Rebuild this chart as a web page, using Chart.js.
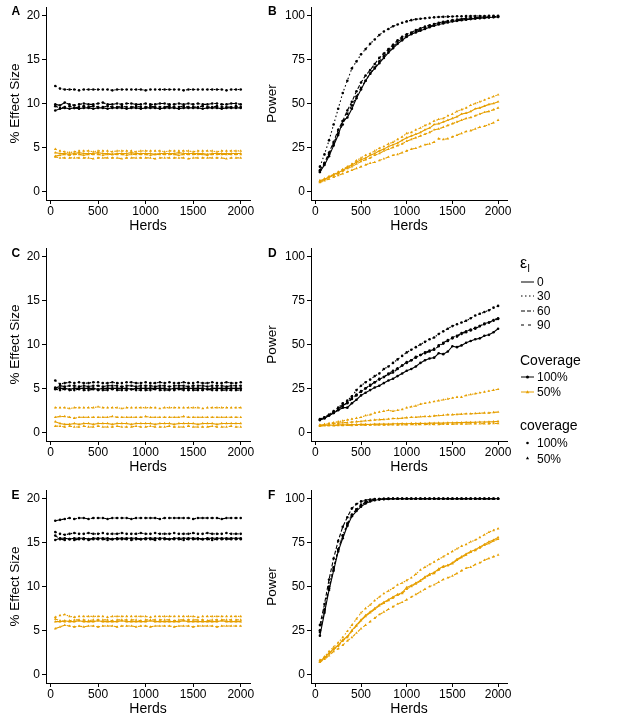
<!DOCTYPE html>
<html>
<head>
<meta charset="utf-8">
<script src="https://cdn.jsdelivr.net/npm/chart.js@4.4.1/dist/chart.umd.min.js"></script>
<style>
  body { margin: 0; background: #fff; width: 617px; height: 725px; position: relative; overflow: hidden;
         font-family: "Liberation Sans", Arial, sans-serif; color: #000; }
  canvas { position: absolute; }
  .lab { position: absolute; font-weight: bold; font-size: 12px; line-height: 12px; }
  .leg { position: absolute; font-size: 12px; line-height: 14px; white-space: nowrap; }
  .ttl { position: absolute; font-size: 14px; line-height: 16px; white-space: nowrap; }
  .key { position: absolute; }
</style>
</head>
<body>
<canvas id="chA" width="262" height="238" style="left:0;top:0"></canvas>
<canvas id="chB" width="262" height="238" style="left:257px;top:0"></canvas>
<canvas id="chC" width="262" height="238" style="left:0;top:241px"></canvas>
<canvas id="chD" width="262" height="238" style="left:257px;top:241px"></canvas>
<canvas id="chE" width="262" height="238" style="left:0;top:483px"></canvas>
<canvas id="chF" width="262" height="238" style="left:257px;top:483px"></canvas>

<div class="lab" style="left:11.5px;top:4.8px">A</div>
<div class="lab" style="left:268px;top:4.8px">B</div>
<div class="lab" style="left:11.5px;top:246.5px">C</div>
<div class="lab" style="left:268px;top:246.5px">D</div>
<div class="lab" style="left:11.5px;top:489px">E</div>
<div class="lab" style="left:268px;top:489px">F</div>

<!-- legend -->
<div class="ttl" style="left:520px;top:255px;font-size:16px">ε<sub style="font-size:10px">I</sub></div>
<svg class="key" style="left:521px;top:274.7px" width="13" height="14"><line x1="0" y1="7" x2="13" y2="7" stroke="#000" stroke-width="1"/></svg>
<div class="leg" style="left:537px;top:275px">0</div>
<svg class="key" style="left:521px;top:289px" width="13" height="14"><line x1="0" y1="7" x2="13" y2="7" stroke="#000" stroke-width="1" stroke-dasharray="1.5,2.5"/></svg>
<div class="leg" style="left:537px;top:289.3px">30</div>
<svg class="key" style="left:521px;top:303.7px" width="13" height="14"><line x1="0" y1="7" x2="13" y2="7" stroke="#000" stroke-width="1" stroke-dasharray="4,2"/></svg>
<div class="leg" style="left:537px;top:304px">60</div>
<svg class="key" style="left:521px;top:318px" width="13" height="14"><line x1="0" y1="7" x2="13" y2="7" stroke="#000" stroke-width="1" stroke-dasharray="3,4"/></svg>
<div class="leg" style="left:537px;top:318.3px">90</div>

<div class="ttl" style="left:520px;top:352.4px">Coverage</div>
<svg class="key" style="left:521px;top:369.7px" width="13" height="14"><line x1="0" y1="7" x2="13" y2="7" stroke="#000" stroke-width="1"/><circle cx="6.5" cy="7" r="1.5" fill="#000"/></svg>
<div class="leg" style="left:537px;top:370px">100%</div>
<svg class="key" style="left:521px;top:384.7px" width="13" height="14"><line x1="0" y1="7" x2="13" y2="7" stroke="#E69F00" stroke-width="1"/><polygon points="6.5,5.3 8.2,8.2 4.8,8.2" fill="#E69F00"/></svg>
<div class="leg" style="left:537px;top:385px">50%</div>

<div class="ttl" style="left:520px;top:417.4px">coverage</div>
<svg class="key" style="left:521px;top:435.7px" width="13" height="14"><circle cx="6.5" cy="7" r="1.3" fill="#000"/></svg>
<div class="leg" style="left:537px;top:436px">100%</div>
<svg class="key" style="left:521px;top:451.3px" width="13" height="14"><polygon points="6.5,5.4 8.1,8.2 4.9,8.2" fill="#000"/></svg>
<div class="leg" style="left:537px;top:451.6px">50%</div>

<script>
// herd sizes sampled in the simulations
var herds = [50,100,150,200,250,300,350,400,450,500,550,600,650,700,750,800,850,900,950,1000,
             1050,1100,1150,1200,1250,1300,1350,1400,1450,1500,1550,1600,1650,1700,1750,1800,1850,1900,1950,2000];

var xTicks = [0, 500, 1000, 1500, 2000];
var yTicksEffect = [0, 5, 10, 15, 20];
var yTicksPower = [0, 25, 50, 75, 100];

var epsLevels = ['0', '30', '60', '90'];
var epsDash = [[], [1.5, 2.5], [4, 2], [3, 4]];
var coverageLevels = ['100%', '50%'];
var coverageColors = ['#000000', '#E69F00'];

// panel A - % effect size
var A_k0  = [9.2,9.4,9.5,9.4,9.5,9.4,9.5,9.5,9.4,9.5,9.5,9.4,9.5,9.5,9.5,9.4,9.5,9.5,9.4,9.5,9.5,9.5,9.4,9.5,9.5,9.5,9.4,9.5,9.5,9.5,9.5,9.4,9.5,9.5,9.5,9.4,9.5,9.5,9.5,9.5];
var A_k30 = [12.0,11.7,11.6,11.6,11.6,11.5,11.6,11.6,11.6,11.6,11.6,11.6,11.5,11.6,11.6,11.6,11.6,11.6,11.6,11.5,11.6,11.6,11.6,11.6,11.6,11.6,11.6,11.5,11.6,11.6,11.6,11.6,11.6,11.6,11.6,11.6,11.5,11.6,11.6,11.6];
var A_k60 = [9.9,9.8,10.1,9.9,9.8,9.9,10.0,9.9,9.9,10.0,10.1,9.9,9.9,10.0,9.9,10.0,10.0,9.9,9.9,10.0,9.9,9.9,10.0,10.0,9.9,9.9,10.0,9.9,10.0,9.9,10.0,9.9,9.9,10.0,10.0,9.9,9.9,10.0,10.0,9.9];
var A_k90 = [9.7,9.5,9.6,9.7,9.5,9.6,9.7,9.6,9.7,9.6,9.6,9.7,9.6,9.6,9.7,9.6,9.6,9.7,9.6,9.6,9.7,9.6,9.6,9.6,9.7,9.6,9.6,9.7,9.6,9.6,9.6,9.7,9.6,9.6,9.7,9.6,9.6,9.6,9.7,9.6];
var A_o0  = [4.4,4.3,4.3,4.2,4.3,4.4,4.3,4.3,4.3,4.4,4.3,4.3,4.2,4.3,4.3,4.3,4.4,4.3,4.3,4.3,4.3,4.2,4.3,4.3,4.3,4.3,4.4,4.3,4.3,4.3,4.3,4.3,4.2,4.3,4.3,4.3,4.3,4.3,4.3,4.3];
var A_o30 = [4.8,4.6,4.5,4.4,4.5,4.6,4.6,4.6,4.5,4.6,4.6,4.6,4.5,4.6,4.6,4.6,4.6,4.5,4.6,4.6,4.6,4.6,4.6,4.5,4.6,4.6,4.6,4.6,4.6,4.5,4.6,4.6,4.6,4.6,4.5,4.6,4.6,4.6,4.6,4.6];
var A_o60 = [4.0,4.1,4.2,4.1,4.2,4.2,4.1,4.2,4.2,4.2,4.1,4.2,4.2,4.2,4.2,4.1,4.2,4.2,4.2,4.2,4.1,4.2,4.2,4.2,4.2,4.2,4.1,4.2,4.2,4.2,4.2,4.2,4.1,4.2,4.2,4.2,4.2,4.2,4.2,4.2];
var A_o90 = [3.9,3.8,3.8,3.8,3.8,3.8,3.8,3.8,3.7,3.8,3.8,3.8,3.8,3.8,3.7,3.8,3.8,3.8,3.8,3.8,3.8,3.7,3.8,3.8,3.8,3.8,3.8,3.8,3.7,3.8,3.8,3.8,3.8,3.8,3.8,3.8,3.7,3.8,3.8,3.8];

// panel B - power
var B_k0  = [11,15,20,26,32,40,42,47,53,58,63,67,70,73,76,79,81.5,84,86,88,89.5,90.5,91.5,92.5,93.5,94.3,95,95.6,96.2,96.7,97.1,97.5,97.8,98.1,98.4,98.6,98.8,99,99.2,99.3];
var B_k30 = [14,21,29,38,47,56,63,70,74,78,81,84,86.5,89,91,92.5,94,95,96,96.8,97.5,98,98.3,98.6,98.9,99.1,99.3,99.4,99.5,99.6,99.7,99.7,99.8,99.8,99.9,99.9,99.9,100,100,100];
var B_k60 = [12,16,22,28,35,40,46,51,57,62,66,69,72.5,76,78.5,81,83.5,86,88,89.5,90.5,91.8,92.8,93.8,94.6,95.3,96,96.6,97,97.5,97.8,98.2,98.5,98.7,98.9,99.1,99.3,99.4,99.5,99.6];
var B_k90 = [11,16,21,27,33,38,44,49,54,59,63,67,70.5,74,77,80,82.5,85,87,88.5,90,91,92.2,93.2,94,94.8,95.5,96.1,96.6,97,97.4,97.8,98.1,98.4,98.6,98.8,99,99.2,99.3,99.4];
var B_o0  = [6,7,8,9.5,10.5,12,13.5,15,16.5,18,19,20.5,21.5,23,24,25.5,26.5,27.5,29,30.5,31.5,32.5,33.5,35,36,38,38.5,39.5,40.5,41.5,42.5,44,44.5,45.5,47,47.5,48.5,49.5,50,51];
var B_o30 = [6,7,8.5,9.5,11,12.5,14,15.5,17.5,19,20.5,21.5,23,24.5,25.5,27,28,29.5,31,33,33.5,35,36,37.5,38.5,40,41,41.5,43,44,45.5,46.5,47.5,49,50,51,52,53,54,55];
var B_o60 = [5.5,6.5,8,9,10,11.5,13,14,15.5,17,18,19,20.5,21.5,23,24,25,26,27,28.5,29.5,30.5,31.5,32.5,33.5,35,35.5,36.5,37.5,38.5,39.5,40.5,41.5,42,43,44,45,45.5,46.5,47.5];
var B_o90 = [5,6,7,8,9,10,11,12,13,14,15,16,16.5,17.5,18.5,19.5,20.5,21,22,23,24,24.5,25.5,26.5,27,28,30,29.5,30,31,32,33,34,34.5,35.5,36.5,37,38,39,40.5];

// panel C - % effect size
var C_k0  = [5.1,5.0,5.0,4.9,5.0,5.0,5.0,5.0,5.0,4.9,5.0,5.0,5.0,5.0,5.0,5.0,4.9,5.0,5.0,5.0,5.0,5.0,5.0,5.0,4.9,5.0,5.0,5.0,5.0,5.0,5.0,5.0,4.9,5.0,5.0,5.0,5.0,5.0,5.0,5.0];
var C_k30 = [5.9,5.5,5.6,5.7,5.6,5.7,5.6,5.6,5.7,5.7,5.6,5.6,5.7,5.6,5.6,5.7,5.7,5.6,5.6,5.7,5.6,5.6,5.7,5.6,5.7,5.6,5.6,5.7,5.6,5.6,5.7,5.6,5.6,5.7,5.6,5.6,5.7,5.6,5.6,5.7];
var C_k60 = [5.0,5.3,5.2,5.3,5.3,5.2,5.3,5.2,5.3,5.3,5.2,5.3,5.3,5.3,5.2,5.3,5.3,5.2,5.3,5.3,5.3,5.2,5.3,5.3,5.2,5.3,5.3,5.3,5.2,5.3,5.3,5.3,5.2,5.3,5.3,5.3,5.2,5.3,5.3,5.3];
var C_k90 = [4.9,4.8,4.9,4.8,4.8,4.9,4.8,4.8,4.9,4.8,4.8,4.8,4.9,4.8,4.8,4.8,4.9,4.8,4.8,4.8,4.8,4.9,4.8,4.8,4.8,4.8,4.9,4.8,4.8,4.8,4.8,4.8,4.9,4.8,4.8,4.8,4.8,4.8,4.8,4.8];
var C_o0  = [1.2,1.0,0.9,0.9,1.0,0.9,1.0,1.0,0.9,1.0,1.0,1.0,0.9,1.0,1.0,1.0,0.9,1.0,1.0,1.0,1.0,0.9,1.0,1.0,1.0,0.9,1.0,1.0,1.0,1.0,0.9,1.0,1.0,1.0,0.9,1.0,1.0,1.0,1.0,1.0];
var C_o30 = [2.8,2.8,2.8,2.7,2.8,2.8,2.8,2.8,2.8,2.9,2.8,2.8,2.8,2.8,2.7,2.8,2.8,2.8,2.8,2.8,2.8,2.8,2.7,2.8,2.8,2.8,2.8,2.8,2.8,2.8,2.8,2.7,2.8,2.8,2.8,2.8,2.8,2.8,2.8,2.8];
var C_o60 = [1.7,1.8,1.8,1.7,1.6,1.7,1.7,1.7,1.7,1.7,1.7,1.7,1.8,1.7,1.7,1.7,1.7,1.7,1.7,1.8,1.7,1.7,1.7,1.7,1.7,1.7,1.7,1.8,1.7,1.7,1.7,1.7,1.7,1.7,1.7,1.7,1.7,1.7,1.7,1.7];
var C_o90 = [0.7,0.7,0.6,0.7,0.6,0.6,0.7,0.6,0.6,0.7,0.6,0.6,0.6,0.7,0.6,0.6,0.6,0.7,0.6,0.6,0.7,0.6,0.6,0.6,0.7,0.6,0.6,0.6,0.7,0.6,0.6,0.6,0.6,0.7,0.6,0.6,0.6,0.7,0.6,0.6];

// panel D - power
var D_k0  = [7,8,9.5,11,12.5,14,14,16.5,18.5,21,22.5,24,25.5,26.5,28,29.5,30.5,32,33.5,35,36,37.5,39.5,41,42,42.5,45,44.5,46,49,48.5,49.5,51,52,53,53.5,55,55.5,57,59];
var D_k30 = [7,8.5,10,12,14,16.5,18,20.5,24,26.5,28.5,30,32,33.5,36,37.5,39.5,41.5,43.5,45.5,47,48.5,50,51.5,53,54,56,57.5,59,60.5,61.5,62.5,63.5,65,66.5,67.5,68.5,69.5,71,72];
var D_k60 = [7,8,9.5,11,13,15.5,16.5,19,21,23.5,25,26.5,28.5,30,31.5,33,34,36,38,40,41,42.5,44,45.5,46.5,47,49,50.5,52,54,55,56.5,57.5,58.5,59.5,60.5,62,62.5,64,65];
var D_k90 = [7.5,8.5,10,11.5,13.5,15,17,19.5,21.5,23,25,27,28.5,30.5,31.5,33.5,35,36.5,38,39.5,41,43,44,45,46,47.5,49.5,51,52.5,53.5,54.5,56,57,58,59,60.5,61.5,62.5,63.5,64.5];
var D_o0  = [3.8,4.0,4.1,4.0,4.2,4.3,4.2,4.4,4.3,4.5,4.5,4.4,4.6,4.6,4.7,4.6,4.8,4.8,4.9,4.8,5.0,5.0,5.1,5.0,5.2,5.2,5.3,5.2,5.4,5.4,5.5,5.5,5.6,5.6,5.7,5.8,5.8,5.9,6.0,6.2];
var D_o30 = [4,4.5,5,5.5,6,6.5,7,7.5,8,8.5,9.5,10,11,11.5,12,12.5,12,12.5,13,14,14.5,15,16,16.5,17,17.5,18,18.5,19,19.5,20,20,21,21.5,22,22.5,23,23.5,24,24.5];
var D_o60 = [4,4.5,4.8,5,5.2,5.5,5.5,5.8,6,6.2,6.5,6.7,7,7.2,7.3,7.5,7.8,7.8,8,8.3,8.5,8.5,8.8,9,9,9.3,9.5,9.7,10,10,10.2,10.3,10.5,10.5,10.7,10.8,11,11,11.3,11.5];
var D_o90 = [3.5,3.7,3.8,3.7,3.9,3.9,4.0,3.9,4.0,4.1,4.0,4.1,4.2,4.1,4.2,4.2,4.3,4.2,4.3,4.3,4.4,4.3,4.4,4.4,4.5,4.5,4.5,4.6,4.6,4.6,4.7,4.7,4.7,4.8,4.8,4.8,4.9,4.9,5.0,5.0];

// panel E - % effect size
var E_k0  = [15.3,15.5,15.5,15.4,15.5,15.5,15.5,15.4,15.5,15.5,15.5,15.5,15.4,15.5,15.5,15.5,15.5,15.5,15.4,15.5,15.5,15.5,15.5,15.5,15.4,15.5,15.5,15.5,15.5,15.5,15.5,15.4,15.5,15.5,15.5,15.5,15.5,15.5,15.5,15.5];
var E_k30 = [16.2,16.0,15.9,16.0,16.1,16.0,16.0,16.1,16.0,16.0,16.1,16.0,16.0,16.0,16.1,16.0,16.0,16.0,16.1,16.0,16.0,16.1,16.0,16.0,16.0,16.1,16.0,16.0,16.0,16.1,16.0,16.0,16.1,16.0,16.0,16.0,16.1,16.0,16.0,16.0];
var E_k60 = [17.5,17.6,17.7,17.8,17.7,17.8,17.8,17.7,17.8,17.8,17.8,17.7,17.8,17.8,17.8,17.8,17.7,17.8,17.8,17.8,17.8,17.8,17.7,17.8,17.8,17.8,17.8,17.8,17.8,17.7,17.8,17.8,17.8,17.8,17.8,17.7,17.8,17.8,17.8,17.8];
var E_k90 = [15.8,15.4,15.3,15.4,15.3,15.4,15.4,15.3,15.4,15.4,15.4,15.3,15.4,15.4,15.4,15.4,15.3,15.4,15.4,15.4,15.4,15.3,15.4,15.4,15.4,15.4,15.4,15.3,15.4,15.4,15.4,15.4,15.4,15.3,15.4,15.4,15.4,15.4,15.4,15.4];
var E_o0  = [6.0,6.0,6.1,6.0,6.0,6.1,6.0,6.0,6.0,6.1,6.0,6.0,6.0,6.0,6.1,6.0,6.0,6.0,6.0,6.0,6.1,6.0,6.0,6.0,6.0,6.0,6.0,6.1,6.0,6.0,6.0,6.0,6.0,6.0,6.0,6.1,6.0,6.0,6.0,6.0];
var E_o30 = [6.5,6.7,6.8,6.6,6.5,6.6,6.6,6.6,6.6,6.6,6.6,6.5,6.6,6.6,6.6,6.6,6.6,6.6,6.6,6.6,6.5,6.6,6.6,6.6,6.6,6.6,6.6,6.6,6.6,6.6,6.5,6.6,6.6,6.6,6.6,6.6,6.6,6.6,6.6,6.6];
var E_o60 = [5.2,5.4,5.6,5.5,5.4,5.5,5.4,5.5,5.5,5.4,5.5,5.5,5.5,5.4,5.5,5.5,5.5,5.4,5.5,5.5,5.4,5.5,5.5,5.5,5.5,5.4,5.5,5.5,5.5,5.4,5.5,5.5,5.5,5.5,5.4,5.5,5.5,5.5,5.5,5.5];
var E_o90 = [6.3,6.1,6.0,6.1,6.2,6.2,6.2,6.1,6.2,6.2,6.2,6.2,6.1,6.2,6.2,6.2,6.2,6.2,6.1,6.2,6.2,6.2,6.2,6.2,6.2,6.1,6.2,6.2,6.2,6.2,6.2,6.2,6.1,6.2,6.2,6.2,6.2,6.2,6.2,6.2];

// panel F - power
var F_k0  = [22,35,48,59,70,77.5,84.5,90,93,95.5,97.3,98.5,99.2,99.6,99.8,99.9,100,100,100,100,100,100,100,100,100,100,100,100,100,100,100,100,100,100,100,100,100,100,100,100];
var F_k30 = [25,37,50,61,71,79,86,91,94,96.5,98,99,99.4,99.7,99.9,100,100,100,100,100,100,100,100,100,100,100,100,100,100,100,100,100,100,100,100,100,100,100,100,100];
var F_k60 = [28,40,54,66,76,84,89.5,94.5,97,98.5,99.2,99.6,99.8,99.9,100,100,100,100,100,100,100,100,100,100,100,100,100,100,100,100,100,100,100,100,100,100,100,100,100,100];
var F_k90 = [24,36,49,60,71,79,85,90.5,94,96.5,98,99,99.5,99.8,99.9,100,100,100,100,100,100,100,100,100,100,100,100,100,100,100,100,100,100,100,100,100,100,100,100,100];
var F_o0  = [7.5,9.5,12,14.5,16.5,19.5,21.5,25,28,31,33.5,35.5,37.5,39.5,41,42.5,44,45.5,46.5,49.5,50.5,52,53.5,55.5,57,58,60,61.5,62,63.5,65.5,67,68.5,70,71,72.5,74,75.5,76.5,78];
var F_o30 = [8,10,13,15.5,18,21,24.5,28,31.5,35,37.5,39.5,42,44,46,47.5,49,51,52,53.5,55,57,59.5,61,62.5,64,65.5,67,68.5,70,71.5,73,74,75.5,76.5,78,79.5,81,82,83];
var F_o60 = [7,9,11.5,14,16,19,21,24.5,27.5,30.5,33,35,37,39,40.5,42,43.5,45,46,48.5,50,51.5,53,55,56.5,57.5,59.5,61,62,63,65,66.5,68,69.5,70.5,72,73.5,74.5,76,77];
var F_o90 = [7,8.5,10.5,13,14.5,16.5,19,21,23.5,26,28,30,32,34,35.5,37,38.5,40,41,42.5,44,45.5,47,48.5,50,51,52.5,54,55,56,57.5,59,60.5,61,62.5,63.5,65,66,67,68];

var FONT = '"Liberation Sans", Arial, sans-serif';

function makePanel(id, blacks, oranges, yTicks, yMin, yMax, yTitle, yWidth) {
  var datasets = [];
  [blacks, oranges].forEach(function (group, c) {
    group.forEach(function (vals, e) {
      datasets.push({
        label: coverageLevels[c] + ' / ' + epsLevels[e],
        data: herds.map(function (h, i) { return {x: h, y: vals[i]}; }),
        borderColor: coverageColors[c],
        backgroundColor: coverageColors[c],
        borderWidth: 1.1,
        borderDash: epsDash[e],
        pointStyle: c === 0 ? 'circle' : 'triangle',
        pointRadius: c === 0 ? 1.3 : 1.6,
        pointBorderWidth: 0,
        tension: 0
      });
    });
  });

  var axisGrid = {drawOnChartArea: false, drawTicks: true, tickLength: 4, color: '#000', lineWidth: 1};
  var axisBorder = {display: true, color: '#000', width: 1};
  var plainLabel = function (v) { return String(v); };

  new Chart(document.getElementById(id), {
    type: 'line',
    data: {datasets: datasets},
    options: {
      responsive: false,
      animation: false,
      layout: {padding: {top: 7, right: 12, left: 0, bottom: 0}},
      plugins: {legend: {display: false}, tooltip: {enabled: false}},
      scales: {
        x: {
          type: 'linear', min: -47.5, max: 2097.5,
          afterBuildTicks: function (s) { s.ticks = xTicks.map(function (v) { return {value: v}; }); },
          afterFit: function (s) { s.height = 38; s.paddingLeft = 0; s.paddingRight = 0; },
          grid: axisGrid,
          border: axisBorder,
          ticks: {color: '#000', font: {family: FONT, size: 12}, padding: 0, maxRotation: 0, autoSkip: false, callback: plainLabel},
          title: {display: true, text: 'Herds', color: '#000', font: {family: FONT, size: 14}, padding: {top: 0, bottom: 3}}
        },
        y: {
          type: 'linear', min: yMin, max: yMax,
          afterBuildTicks: function (s) { s.ticks = yTicks.map(function (v) { return {value: v}; }); },
          afterFit: function (s) { s.width = yWidth; s.paddingTop = 0; s.paddingBottom = 0; },
          grid: axisGrid,
          border: axisBorder,
          ticks: {color: '#000', font: {family: FONT, size: 12}, padding: 2, autoSkip: false, callback: plainLabel},
          title: {display: true, text: yTitle, color: '#000', font: {family: FONT, size: 13.5}, padding: {top: 7, bottom: 0}}
        }
      }
    }
  });
}

makePanel('chA', [A_k0, A_k30, A_k60, A_k90], [A_o0, A_o30, A_o60, A_o90], yTicksEffect, -1, 21, '% Effect Size', 46);
makePanel('chB', [B_k0, B_k30, B_k60, B_k90], [B_o0, B_o30, B_o60, B_o90], yTicksPower, -5, 105, 'Power', 54);
makePanel('chC', [C_k0, C_k30, C_k60, C_k90], [C_o0, C_o30, C_o60, C_o90], yTicksEffect, -1, 21, '% Effect Size', 46);
makePanel('chD', [D_k0, D_k30, D_k60, D_k90], [D_o0, D_o30, D_o60, D_o90], yTicksPower, -5, 105, 'Power', 54);
makePanel('chE', [E_k0, E_k30, E_k60, E_k90], [E_o0, E_o30, E_o60, E_o90], yTicksEffect, -1, 21, '% Effect Size', 46);
makePanel('chF', [F_k0, F_k30, F_k60, F_k90], [F_o0, F_o30, F_o60, F_o90], yTicksPower, -5, 105, 'Power', 54);
</script>
</body>
</html>
